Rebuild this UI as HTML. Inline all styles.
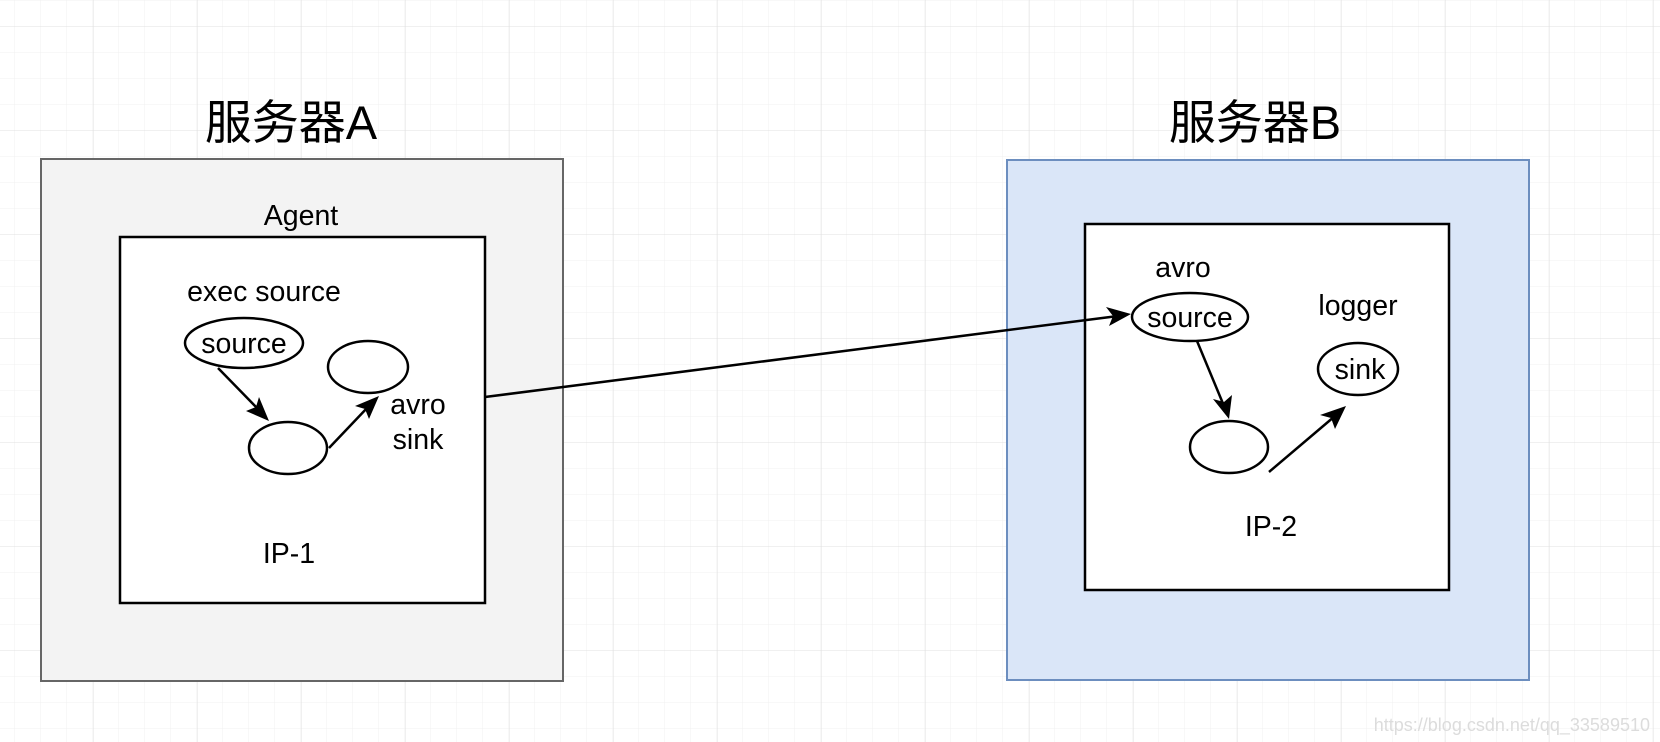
<!DOCTYPE html>
<html><head><meta charset="utf-8"><style>
html,body{margin:0;padding:0;background:#fff}
svg{display:block}
text{font-family:"Liberation Sans","Noto Sans CJK SC",sans-serif;fill:#000}
</style></head><body>
<svg width="1660" height="742" viewBox="0 0 1660 742" xmlns="http://www.w3.org/2000/svg">
<defs>
<pattern id="minor" width="26" height="26" patternUnits="userSpaceOnUse" x="14" y="0">
<path d="M0 0V26M0 0H26" stroke="#f1f1f1" stroke-width="1" fill="none"/>
</pattern>
<pattern id="major" width="104" height="104" patternUnits="userSpaceOnUse" x="93" y="26">
<path d="M0 0V104M0 0H104" stroke="#e0e0e0" stroke-width="1" fill="none"/>
</pattern>
</defs>
<rect width="1660" height="742" fill="url(#minor)"/>
<rect width="1660" height="742" fill="url(#major)"/>

<!-- Server A -->
<rect x="41" y="159" width="522" height="522" fill="#f3f3f3" stroke="#666" stroke-width="2"/>
<rect x="120" y="237" width="365" height="366" fill="#fff" stroke="#000" stroke-width="2.5"/>
<text x="291" y="139" font-size="47" text-anchor="middle">服务器A</text>
<text x="301" y="225" font-size="28.5" text-anchor="middle">Agent</text>
<text x="264" y="301" font-size="28.5" text-anchor="middle">exec source</text>
<ellipse cx="244" cy="343" rx="59" ry="25" fill="#fff" stroke="#000" stroke-width="2.5"/>
<text x="244" y="353" font-size="28.5" text-anchor="middle">source</text>
<ellipse cx="368" cy="367" rx="40" ry="26" fill="#fff" stroke="#000" stroke-width="2.5"/>
<ellipse cx="288" cy="448" rx="39" ry="26" fill="#fff" stroke="#000" stroke-width="2.5"/>
<text x="418" y="414" font-size="28.5" text-anchor="middle">avro</text>
<text x="418" y="449" font-size="28.5" text-anchor="middle">sink</text>
<text x="289" y="563" font-size="28.5" text-anchor="middle">IP-1</text>
<line x1="218" y1="368" x2="259" y2="410" stroke="#000" stroke-width="2.5"/>
<polygon points="269,421 246,411 256,407 259,397" fill="#000"/>
<line x1="329" y1="448" x2="368" y2="407" stroke="#000" stroke-width="2.5"/>
<polygon points="379,396 369,419 365,409 355,406" fill="#000"/>

<!-- Server B -->
<rect x="1007" y="160" width="522" height="520" fill="#dae6f8" stroke="#6c8ebf" stroke-width="2"/>
<rect x="1085" y="224" width="364" height="366" fill="#fff" stroke="#000" stroke-width="2.5"/>
<text x="1255" y="139" font-size="47" text-anchor="middle">服务器B</text>
<text x="1183" y="277" font-size="28.5" text-anchor="middle">avro</text>
<ellipse cx="1190" cy="317" rx="58" ry="24" fill="#fff" stroke="#000" stroke-width="2.5"/>
<text x="1190" y="327" font-size="28.5" text-anchor="middle">source</text>
<text x="1358" y="315" font-size="28.5" text-anchor="middle">logger</text>
<ellipse cx="1358" cy="369" rx="40" ry="26" fill="#fff" stroke="#000" stroke-width="2.5"/>
<text x="1360" y="379" font-size="28.5" text-anchor="middle">sink</text>
<ellipse cx="1229" cy="447" rx="39" ry="26" fill="#fff" stroke="#000" stroke-width="2.5"/>
<text x="1271" y="536" font-size="28.5" text-anchor="middle">IP-2</text>
<line x1="1197" y1="341" x2="1224" y2="406" stroke="#000" stroke-width="2.5"/>
<polygon points="1229,419 1213,399 1224,402 1232,395" fill="#000"/>
<line x1="1269" y1="472" x2="1335" y2="416" stroke="#000" stroke-width="2.5"/>
<polygon points="1346,406 1335,429 1331,418 1320,415" fill="#000"/>

<line x1="485" y1="397" x2="1118" y2="316" stroke="#000" stroke-width="2.5"/>
<polygon points="1131,314 1109,326 1113,316 1106,307" fill="#000"/>

<text x="1650" y="731" font-size="18" text-anchor="end" style="fill:#dcdcdc">https://blog.csdn.net/qq_33589510</text>
</svg>
</body></html>
